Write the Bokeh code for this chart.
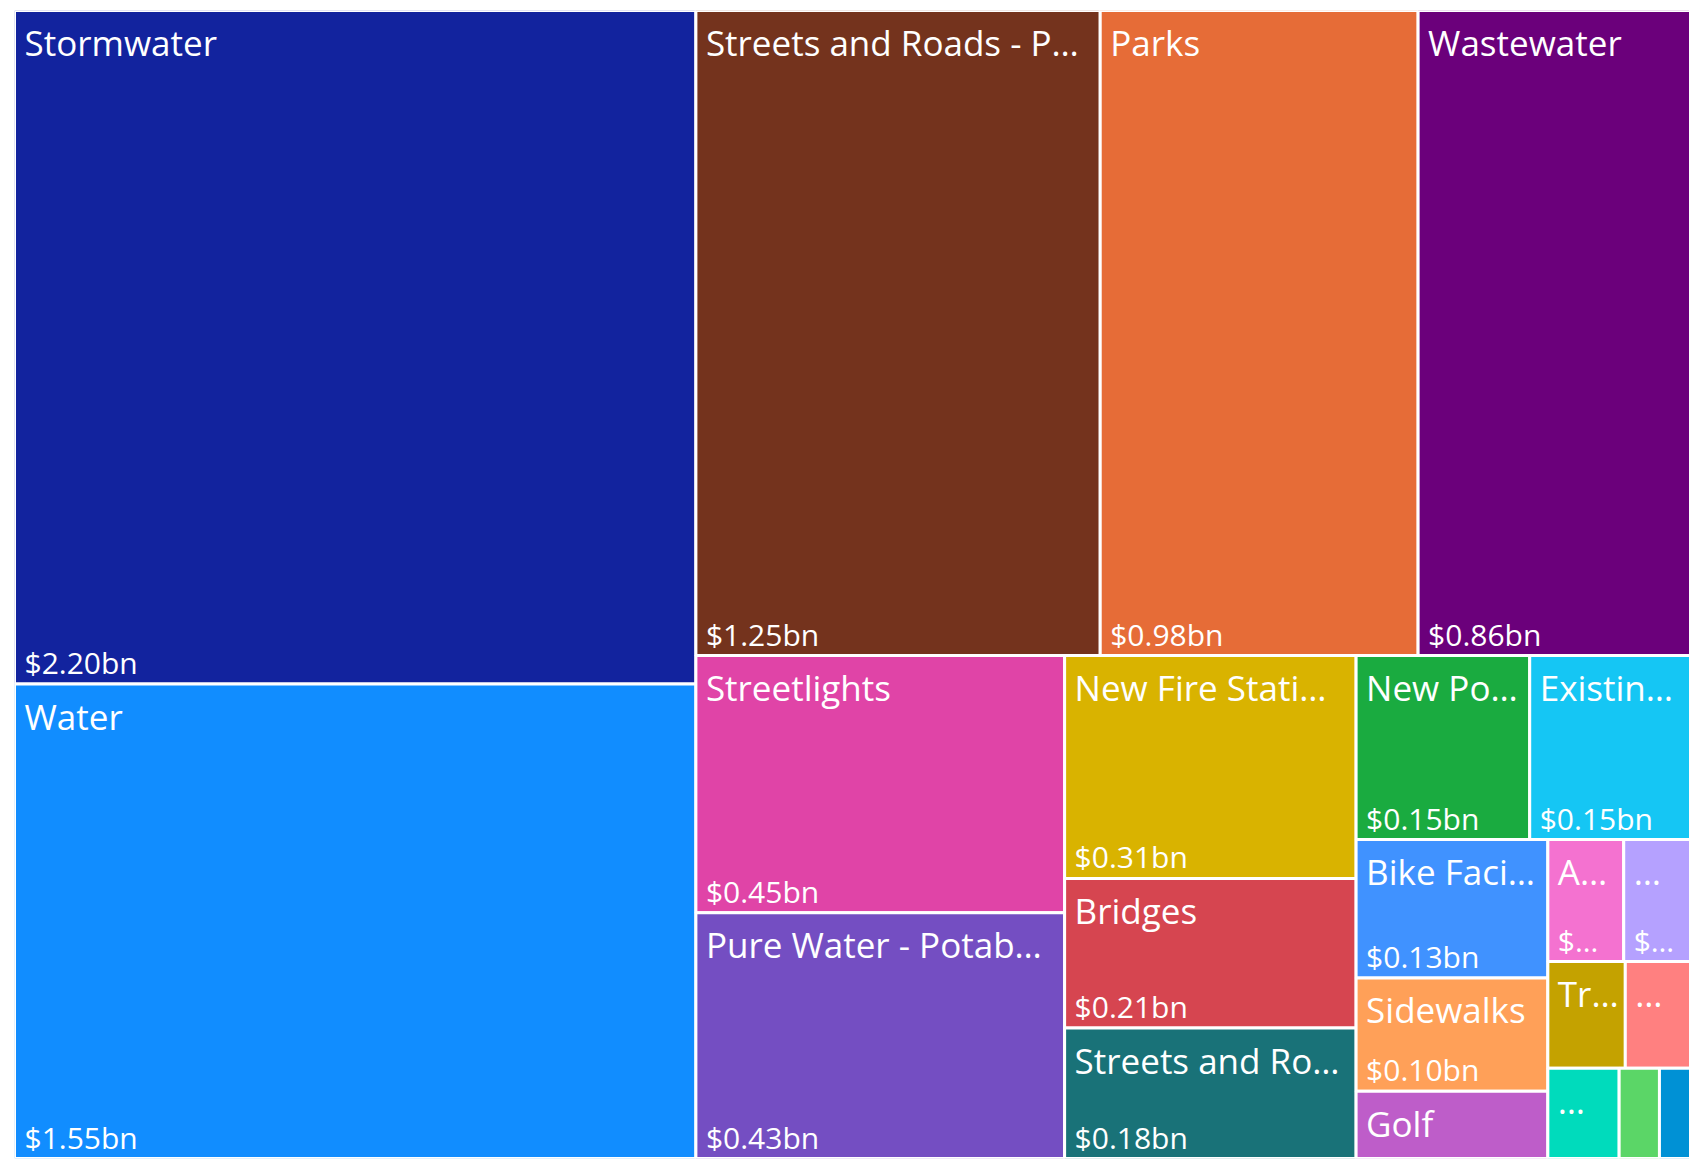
from bokeh.plotting import figure
from bokeh.models import ColumnDataSource, Range1d
from bokeh.embed import file_html
from bokeh.resources import INLINE
from bokeh.core.properties import value

# ---- data (values in $bn) ----
categories = [
    "Stormwater", "Water", "Streets and Roads - P…", "Parks", "Wastewater",
    "Streetlights", "Pure Water - Potab…", "New Fire Stati…", "Bridges",
    "Streets and Ro…", "New Po…", "Existin…", "Bike Faci…", "Sidewalks", "Golf",
    "A…", "…", "Tr…", "…", "…", "", "",
]
amounts = [
    2.198, 1.548, 1.249, 0.982, 0.860,
    0.454, 0.434, 0.311, 0.209,
    0.182, 0.153, 0.147, 0.127, 0.104, 0.0618,
    0.0443, 0.0425, 0.0396, 0.0364, 0.0308, 0.0174, 0.0160,
]
value_labels = [
    "$2.20bn", "$1.55bn", "$1.25bn", "$0.98bn", "$0.86bn",
    "$0.45bn", "$0.43bn", "$0.31bn", "$0.21bn",
    "$0.18bn", "$0.15bn", "$0.15bn", "$0.13bn", "$0.10bn", "",
    "$…", "$…", "", "", "", "", "",
]
colors = [
    "#12239E", "#118DFF", "#74331D", "#E66C37", "#6B007B",
    "#E044A7", "#744EC2", "#D9B300", "#D64550",
    "#197278", "#1AAB40", "#15C6F4", "#4092FF", "#FFA058", "#BE5DC9",
    "#F472D0", "#B5A1FF", "#C4A200", "#FF8080", "#00DBBC", "#5BD667", "#0091D5",
]

PHI = (1 + 5 ** 0.5) / 2


def squarify(vals, x0, y0, x1, y1, ratio=PHI):
    """Port of d3.treemapSquarify (golden ratio)."""
    n = len(vals)
    rects = [None] * n
    i0 = i1 = 0
    total = sum(vals)
    while i0 < n:
        dx, dy = x1 - x0, y1 - y0
        s = vals[i1]
        i1 += 1
        mn = mx = s
        alpha = max(dy / dx, dx / dy) / (total * ratio)
        beta = s * s * alpha
        min_ratio = max(mx / beta, beta / mn)
        while i1 < n:
            nv = vals[i1]
            s2 = s + nv
            mn2, mx2 = min(mn, nv), max(mx, nv)
            beta = s2 * s2 * alpha
            nr = max(mx2 / beta, beta / mn2)
            if nr > min_ratio:
                break
            s, mn, mx, min_ratio = s2, mn2, mx2, nr
            i1 += 1
        row = range(i0, i1)
        if dx < dy:
            yb = y0 + dy * s / total if i1 < n else y1
            xx = x0
            for i in row:
                w = dx * vals[i] / s
                rects[i] = (xx, y0, xx + w, yb)
                xx += w
            y0 = yb
        else:
            xr = x0 + dx * s / total if i1 < n else x1
            yy = y0
            for i in row:
                h = dy * vals[i] / s
                rects[i] = (x0, yy, xr, yy + h)
                yy += h
            x0 = xr
        total -= s
        i0 = i1
    return rects


TM_W, TM_H = 1682.0, 1148.0   # full treemap (its right edge runs past the view)
VIEW_W = 1675.0

rects = squarify(amounts, 0.0, 0.0, TM_W, TM_H)
left = [r[0] for r in rects]
top = [r[1] for r in rects]
right = [r[2] for r in rects]
bottom = [r[3] for r in rects]

src = ColumnDataSource(dict(
    left=left, right=right, top=top, bottom=bottom, color=colors,
    cat=categories, val=value_labels,
    tx=[l + 10 for l in left],
    ty=[t + 32 for t in top],
    vy=[b - 21.5 for b in bottom],
))

p = figure(width=1689, height=1159, output_backend="svg", toolbar_location=None,
           x_axis_type=None, y_axis_type=None,
           x_range=Range1d(0, VIEW_W), y_range=Range1d(TM_H, 0),
           min_border_left=14, min_border_right=0, min_border_top=10, min_border_bottom=1)
p.outline_line_color = None
p.background_fill_color = "white"
p.border_fill_color = "white"
p.xgrid.visible = False
p.ygrid.visible = False

p.quad(left="left", right="right", top="top", bottom="bottom", source=src,
       fill_color="color", line_color="white", line_width=3)

p.text(x="tx", y="ty", text="cat", source=src, text_color="white",
       text_font=value("Open Sans"), text_font_size="35px",
       text_align="left", text_baseline="alphabetic")
p.text(x="tx", y="vy", text="val", source=src, text_color="white",
       text_font=value("Open Sans"), text_font_size="30px",
       text_align="left", text_baseline="alphabetic")

open("out.html", "w").write(file_html(p, INLINE))
